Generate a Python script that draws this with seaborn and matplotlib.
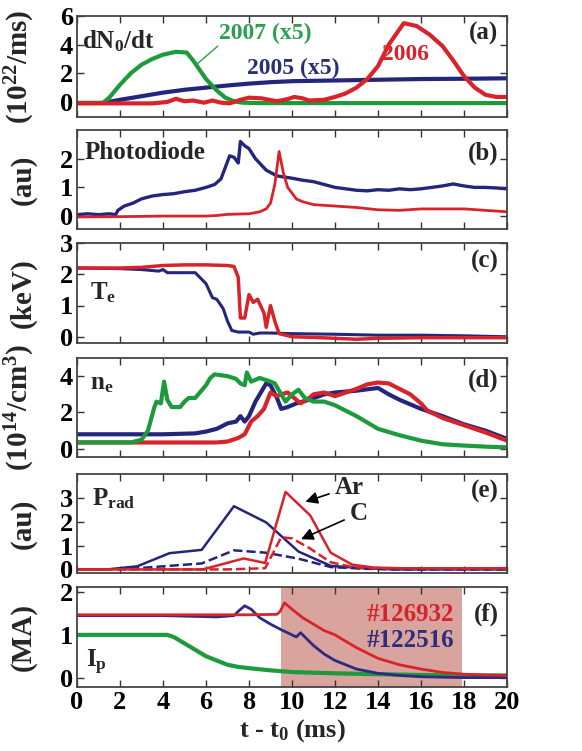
import numpy as np
import pandas as pd
import matplotlib
matplotlib.use("Agg")
import matplotlib.pyplot as plt
import seaborn as sns

RED = "#d8232a"
BLUE = "#23267c"
GREEN = "#1c9a3c"

# (a) dN0/dt
a_t_green = [0, 1.2, 1.5, 2.0, 2.5, 3.0, 3.5, 4.0, 4.6, 5.1, 5.4, 6.0, 6.5, 6.9, 7.3, 7.7, 8.5, 10, 12, 14, 16, 18, 20]
a_green = [-0.07, -0.07, 0.3, 1.2, 2.0, 2.6, 3.0, 3.3, 3.5, 3.45, 2.9, 1.6, 0.8, 0.3, 0.05, -0.05, -0.08, -0.08, -0.08, -0.08, -0.08, -0.08, -0.08]
a_t_blue = [0, 1.2, 2, 3, 4, 5, 6, 7, 8, 9, 10, 12, 14, 16, 18, 20]
a_blue = [-0.07, -0.07, 0.15, 0.4, 0.65, 0.85, 1.0, 1.15, 1.28, 1.38, 1.45, 1.5, 1.55, 1.6, 1.62, 1.65]
a_t_red = [0, 3.5, 4.2, 4.6, 5.0, 5.4, 5.9, 6.3, 6.7, 7.1, 7.6, 8.0, 8.6, 9.3, 9.8, 10.1, 10.5, 10.8, 11.5, 12, 12.5, 13, 13.5, 14, 14.5, 15.2, 15.8, 16.4, 17, 17.5, 18, 18.5, 19, 19.5, 20]
a_red = [-0.1, -0.1, 0.0, 0.22, 0.05, 0.1, -0.05, 0.1, -0.05, -0.1, 0.15, 0.3, 0.25, 0.05, 0.2, 0.35, 0.25, 0.1, 0.15, 0.35, 0.6, 1.0, 1.6, 2.5, 4.0, 5.5, 5.3, 4.7, 3.9, 2.9, 1.8, 1.0, 0.5, 0.35, 0.35]

# (b) photodiode
b_t_blue = [0, 0.5, 1.0, 1.5, 1.8, 1.9, 2.2, 2.6, 3.0, 3.5, 4.0, 4.5, 5.0, 5.5, 6.0, 6.4, 6.7, 6.9, 7.1, 7.3, 7.5, 7.6, 7.8, 8.0, 8.3, 8.8, 9.3, 10, 10.5, 11, 11.5, 12, 12.5, 13, 13.5, 14, 14.5, 15, 15.5, 16, 16.5, 17, 17.5, 18, 18.5, 19, 19.5, 20]
b_blue = [0.05, 0.08, 0.05, 0.08, 0.05, 0.2, 0.35, 0.45, 0.6, 0.7, 0.75, 0.78, 0.85, 0.9, 1.0, 1.1, 1.3, 1.7, 2.1, 2.05, 1.85, 2.6, 2.45, 2.35, 2.0, 1.6, 1.4, 1.32, 1.25, 1.2, 1.1, 1.0, 0.95, 0.9, 0.88, 0.92, 0.9, 0.95, 0.92, 0.95, 1.0, 1.05, 1.12, 1.05, 1.0, 1.0, 0.98, 0.95]
b_t_red = [0, 2, 4, 6, 6.5, 7, 8, 8.5, 8.8, 9.0, 9.2, 9.4, 9.6, 9.8, 10.2, 10.5, 11, 12, 13, 14, 15, 16, 17, 18, 19, 20]
b_red = [-0.03, -0.02, 0.0, 0.0, 0.02, 0.06, 0.08, 0.15, 0.25, 0.45, 1.1, 2.25, 1.5, 1.0, 0.6, 0.5, 0.4, 0.35, 0.3, 0.22, 0.2, 0.25, 0.25, 0.25, 0.2, 0.15]

# (c) Te
c_t_blue = [0, 2, 3, 3.8, 4.0, 4.2, 5.5, 6.0, 6.3, 6.5, 6.8, 7.0, 7.2, 7.5, 8.0, 8.2, 8.5, 9, 10, 12, 14, 16, 18, 20]
c_blue = [2.2, 2.18, 2.15, 2.1, 2.15, 2.05, 2.05, 1.7, 1.25, 1.2, 0.9, 0.5, 0.2, 0.15, 0.15, 0.08, 0.12, 0.12, 0.1, 0.08, 0.05, 0.05, 0.03, 0.0]
c_t_red = [0, 2, 3, 4, 5, 6, 7.0, 7.3, 7.5, 7.6, 7.8, 8.0, 8.2, 8.4, 8.6, 8.7, 8.8, 9.0, 9.2, 9.4, 10, 11, 12, 13, 14, 16, 18, 20]
c_red = [2.2, 2.2, 2.22, 2.28, 2.3, 2.3, 2.28, 2.25, 1.9, 0.6, 0.6, 1.35, 1.1, 1.2, 0.9, 0.75, 0.3, 1.0, 0.5, 0.1, 0.0, -0.02, -0.05, -0.08, -0.05, -0.03, -0.03, -0.03]

# (d) ne
d_t_blue = [0, 2, 4, 5.5, 6, 6.5, 7, 7.4, 7.6, 7.8, 8.0, 8.3, 8.5, 8.8, 9.0, 9.3, 9.5, 9.8, 10.2, 10.8, 11.5, 12, 13, 14, 14.5, 15, 16, 17, 18, 19, 20]
d_blue = [0.8, 0.8, 0.8, 0.85, 0.95, 1.1, 1.4, 1.5, 1.8, 1.5, 1.8, 2.6, 3.0, 3.6, 3.5, 2.8, 2.2, 2.3, 2.5, 2.7, 3.0, 3.1, 3.2, 3.35, 3.0, 2.7, 2.2, 1.8, 1.35, 1.0, 0.55]
d_t_red = [0, 2, 4, 6.5, 7, 7.5, 7.8, 8.1, 8.4, 8.7, 9.0, 9.3, 9.5, 9.8, 10.0, 10.4, 10.8, 11.0, 11.5, 12, 12.5, 13, 13.5, 14, 14.5, 15, 15.5, 16, 16.3, 17, 18, 19, 20]
d_red = [0.35, 0.35, 0.35, 0.35, 0.4, 0.6, 0.8, 1.5, 1.8, 2.2, 3.1, 2.9, 3.0, 3.1, 2.9, 2.5, 2.8, 3.0, 3.1, 2.9, 3.1, 3.3, 3.55, 3.65, 3.6, 3.3, 3.0, 2.5, 2.1, 1.7, 1.3, 0.9, 0.45]
d_t_green = [0, 2.5, 3.0, 3.3, 3.6, 3.7, 3.9, 4.0, 4.05, 4.2, 4.4, 4.8, 5.0, 5.2, 5.5, 6.0, 6.2, 6.4, 7.0, 7.4, 7.6, 7.8, 7.9, 8.1, 8.5, 9.0, 9.2, 9.5, 9.7, 10.0, 10.3, 10.6, 11, 11.5, 12, 13, 14, 15, 16, 17, 18, 19, 20]
d_green = [0.35, 0.35, 0.5, 1.0, 2.3, 2.6, 2.5, 3.3, 3.7, 2.7, 2.3, 2.3, 2.6, 2.8, 2.8, 3.5, 3.9, 4.1, 4.0, 3.85, 3.6, 3.5, 4.2, 3.7, 3.9, 3.7, 3.6, 3.0, 2.6, 3.0, 3.25, 2.8, 2.6, 2.6, 2.4, 1.8, 1.1, 0.75, 0.45, 0.25, 0.18, 0.12, 0.08]

# (e) Prad
e_t_blue = [0, 1.4, 2.8, 4.3, 5.8, 7.3, 8.8, 10.3, 11.8, 13.3, 14.8, 16.3, 17.8, 19.3, 20]
e_blue_ar = [0, 0, 0.13, 0.68, 0.82, 2.65, 1.97, 0.75, 0.15, 0.05, 0, 0, 0, 0, 0]
e_blue_c = [0, 0, 0.05, 0.15, 0.25, 0.8, 0.7, 0.45, 0.1, 0.03, 0, 0, 0, 0, 0]
e_t_red = [0, 5.85, 7.75, 8.75, 9.7, 10.85, 11.8, 12.8, 13.8, 15, 20]
e_red_ar = [0, 0, 0.46, 0.27, 3.25, 2.26, 0.7, 0.2, 0.08, 0.05, 0.05]
e_t_red_c = [0, 7.0, 8.75, 9.5, 10.0, 10.8, 11.8, 12.8, 13.8, 20]
e_red_c = [0, 0.0, 0.05, 1.35, 1.3, 0.9, 0.3, 0.1, 0.05, 0.03]

# (f) Ip
f_t_red = [0, 4, 8, 9.3, 9.45, 9.65, 10, 10.5, 11, 11.5, 12, 12.5, 13, 14, 15, 16, 17, 18, 19, 20]
f_red = [1.47, 1.47, 1.47, 1.48, 1.55, 1.75, 1.6, 1.4, 1.25, 1.1, 1.0, 0.85, 0.7, 0.45, 0.3, 0.2, 0.12, 0.08, 0.06, 0.05]
f_t_blue = [0, 4, 6.5, 7.3, 7.5, 7.8, 8.1, 8.5, 9, 9.5, 10, 10.2, 10.4, 10.6, 11, 11.5, 12, 13, 14, 15, 16, 18, 20]
f_blue = [1.45, 1.45, 1.42, 1.45, 1.55, 1.68, 1.6, 1.4, 1.25, 1.12, 1.0, 0.95, 1.05, 0.95, 0.75, 0.55, 0.4, 0.2, 0.1, 0.05, 0.02, 0.0, 0.0]
f_t_green = [0, 2, 4.2, 4.5, 5, 5.5, 6, 6.5, 7, 7.5, 8, 9, 10, 12, 14, 16, 18, 20]
f_green = [1.0, 1.0, 1.0, 0.95, 0.8, 0.65, 0.5, 0.4, 0.3, 0.25, 0.22, 0.17, 0.13, 0.1, 0.08, 0.06, 0.05, 0.05]
shade = (9.5, 17.9)

ylabels = ["(10$^{22}$/ms)", "(au)", "(keV)", "(10$^{14}$/cm$^3$)", "(au)", "(MA)"]
panel_tags = ["(a)", "(b)", "(c)", "(d)", "(e)", "(f)"]
ylims = [(-1.05, 6), (-0.45, 3.0), (-0.2, 3.0), (-0.45, 5.0), (-0.15, 4.0), (-0.22, 2.12)]
yticks = [[0, 2, 4, 6], [0, 1, 2], [0, 1, 2, 3], [0, 2, 4], [0, 1, 2, 3], [0, 1, 2]]
tag_y = [4.8, 2.2, 2.4, 3.8, 3.25, 1.47]

sns.set_theme(style="ticks")
plt.rcParams["font.family"] = ["Liberation Serif", "DejaVu Serif"]
plt.rcParams["font.weight"] = "bold"
plt.rcParams["mathtext.fontset"] = "custom"
plt.rcParams["mathtext.rm"] = "Liberation Serif:bold"
plt.rcParams["mathtext.it"] = "Liberation Serif:bold"
plt.rcParams["mathtext.bf"] = "Liberation Serif:bold"
plt.rcParams["mathtext.default"] = "rm"

fig = plt.figure(figsize=(5.82, 7.51), dpi=100)
tops = [16, 130, 243, 358, 474, 587]
bottoms = [117, 229, 343, 457, 573, 687]
axes = []
for t, b in zip(tops, bottoms):
    ax = fig.add_axes([77 / 582, 1 - b / 751, 430 / 582, (b - t) / 751])
    axes.append(ax)

def draw(ax, x, y, color, lw, ls="-"):
    sns.lineplot(x=x, y=y, ax=ax, color=color, lw=lw, linestyle=ls, estimator=None, sort=False)

TS = 18

ax = axes[0]
draw(ax, a_t_blue, a_blue, BLUE, 3)
draw(ax, a_t_green, a_green, GREEN, 3)
draw(ax, a_t_red, a_red, RED, 3)
ax.text(0.25, 4.25, "dN$_0$/dt", fontsize=TS, va="center")
ax.text(6.6, 4.8, "2007 (x5)", fontsize=TS - 1, color="#2aa04e", va="center")
ax.plot([6.55, 5.55], [3.9, 2.6], color="#2aa04e", lw=1)
ax.text(7.9, 2.35, "2005 (x5)", fontsize=TS - 1, color="#2a2f7a", va="center")
ax.text(14.2, 3.3, "2006", fontsize=TS - 1, color=RED, va="center")

ax = axes[1]
draw(ax, b_t_blue, b_blue, BLUE, 2.4)
draw(ax, b_t_red, b_red, RED, 2)
ax.text(0.35, 2.2, "Photodiode", fontsize=TS, va="center")

ax = axes[2]
draw(ax, c_t_blue, c_blue, BLUE, 2.2)
draw(ax, c_t_red, c_red, RED, 2.5)
ax.text(0.6, 1.4, "T$_e$", fontsize=TS, va="center")

ax = axes[3]
draw(ax, d_t_blue, d_blue, BLUE, 3)
draw(ax, d_t_red, d_red, RED, 3)
draw(ax, d_t_green, d_green, GREEN, 3)
ax.text(0.6, 3.6, "n$_e$", fontsize=TS, va="center")

ax = axes[4]
draw(ax, e_t_blue, e_blue_ar, BLUE, 1.8)
draw(ax, e_t_blue, e_blue_c, BLUE, 1.8, "--")
draw(ax, e_t_red, e_red_ar, RED, 1.8)
draw(ax, e_t_red_c, e_red_c, RED, 1.8, "--")
ax.text(0.7, 2.95, "P$_{rad}$", fontsize=TS, va="center")
ax.annotate("Ar", xy=(10.5, 2.8), xytext=(12.0, 3.45), fontsize=TS, va="center",
            arrowprops=dict(arrowstyle="-|>", color="black", lw=1.2))
ax.annotate("C", xy=(10.3, 1.22), xytext=(12.7, 2.35), fontsize=TS, va="center",
            arrowprops=dict(arrowstyle="-|>", color="black", lw=1.2))

ax = axes[5]
ax.axvspan(shade[0], shade[1], color="#d9a39e", lw=0, zorder=0)
draw(ax, f_t_green, f_green, GREEN, 3)
draw(ax, f_t_blue, f_blue, "#2e2a82", 2)
draw(ax, f_t_red, f_red, RED, 2)
ax.text(0.4, 0.35, "I$_p$", fontsize=TS, va="center")
ax.text(17.55, 1.47, "#126932", fontsize=TS, color=RED, va="center", ha="right")
ax.text(17.55, 0.87, "#122516", fontsize=TS, color="#2a2f7a", va="center", ha="right")

for i, ax in enumerate(axes):
    ax.set_xlim(0, 20)
    ax.set_ylim(*ylims[i])
    ax.set_yticks(yticks[i])
    ax.set_xticks(range(0, 21, 2))
    ax.tick_params(direction="in", top=True, right=True, length=5, width=1,
                   labelsize=19, pad=3, colors="#333333", labelcolor="black")
    for s in ax.spines.values():
        s.set_color("#444444")
        s.set_linewidth(1.3)
    ax.set_ylabel(ylabels[i], fontsize=21, fontweight="bold")
    ax.yaxis.set_label_coords(-0.093, 0.5)
    ax.text(19.6, tag_y[i], panel_tags[i], fontsize=TS, ha="right", va="center")
    if i < 5:
        ax.set_xticklabels([])
        ax.set_xlabel("")
    else:
        ax.set_xlabel("t - t$_0$ (ms)", fontsize=19, fontweight="bold", labelpad=2)

fig.savefig("out.png", dpi=100)
